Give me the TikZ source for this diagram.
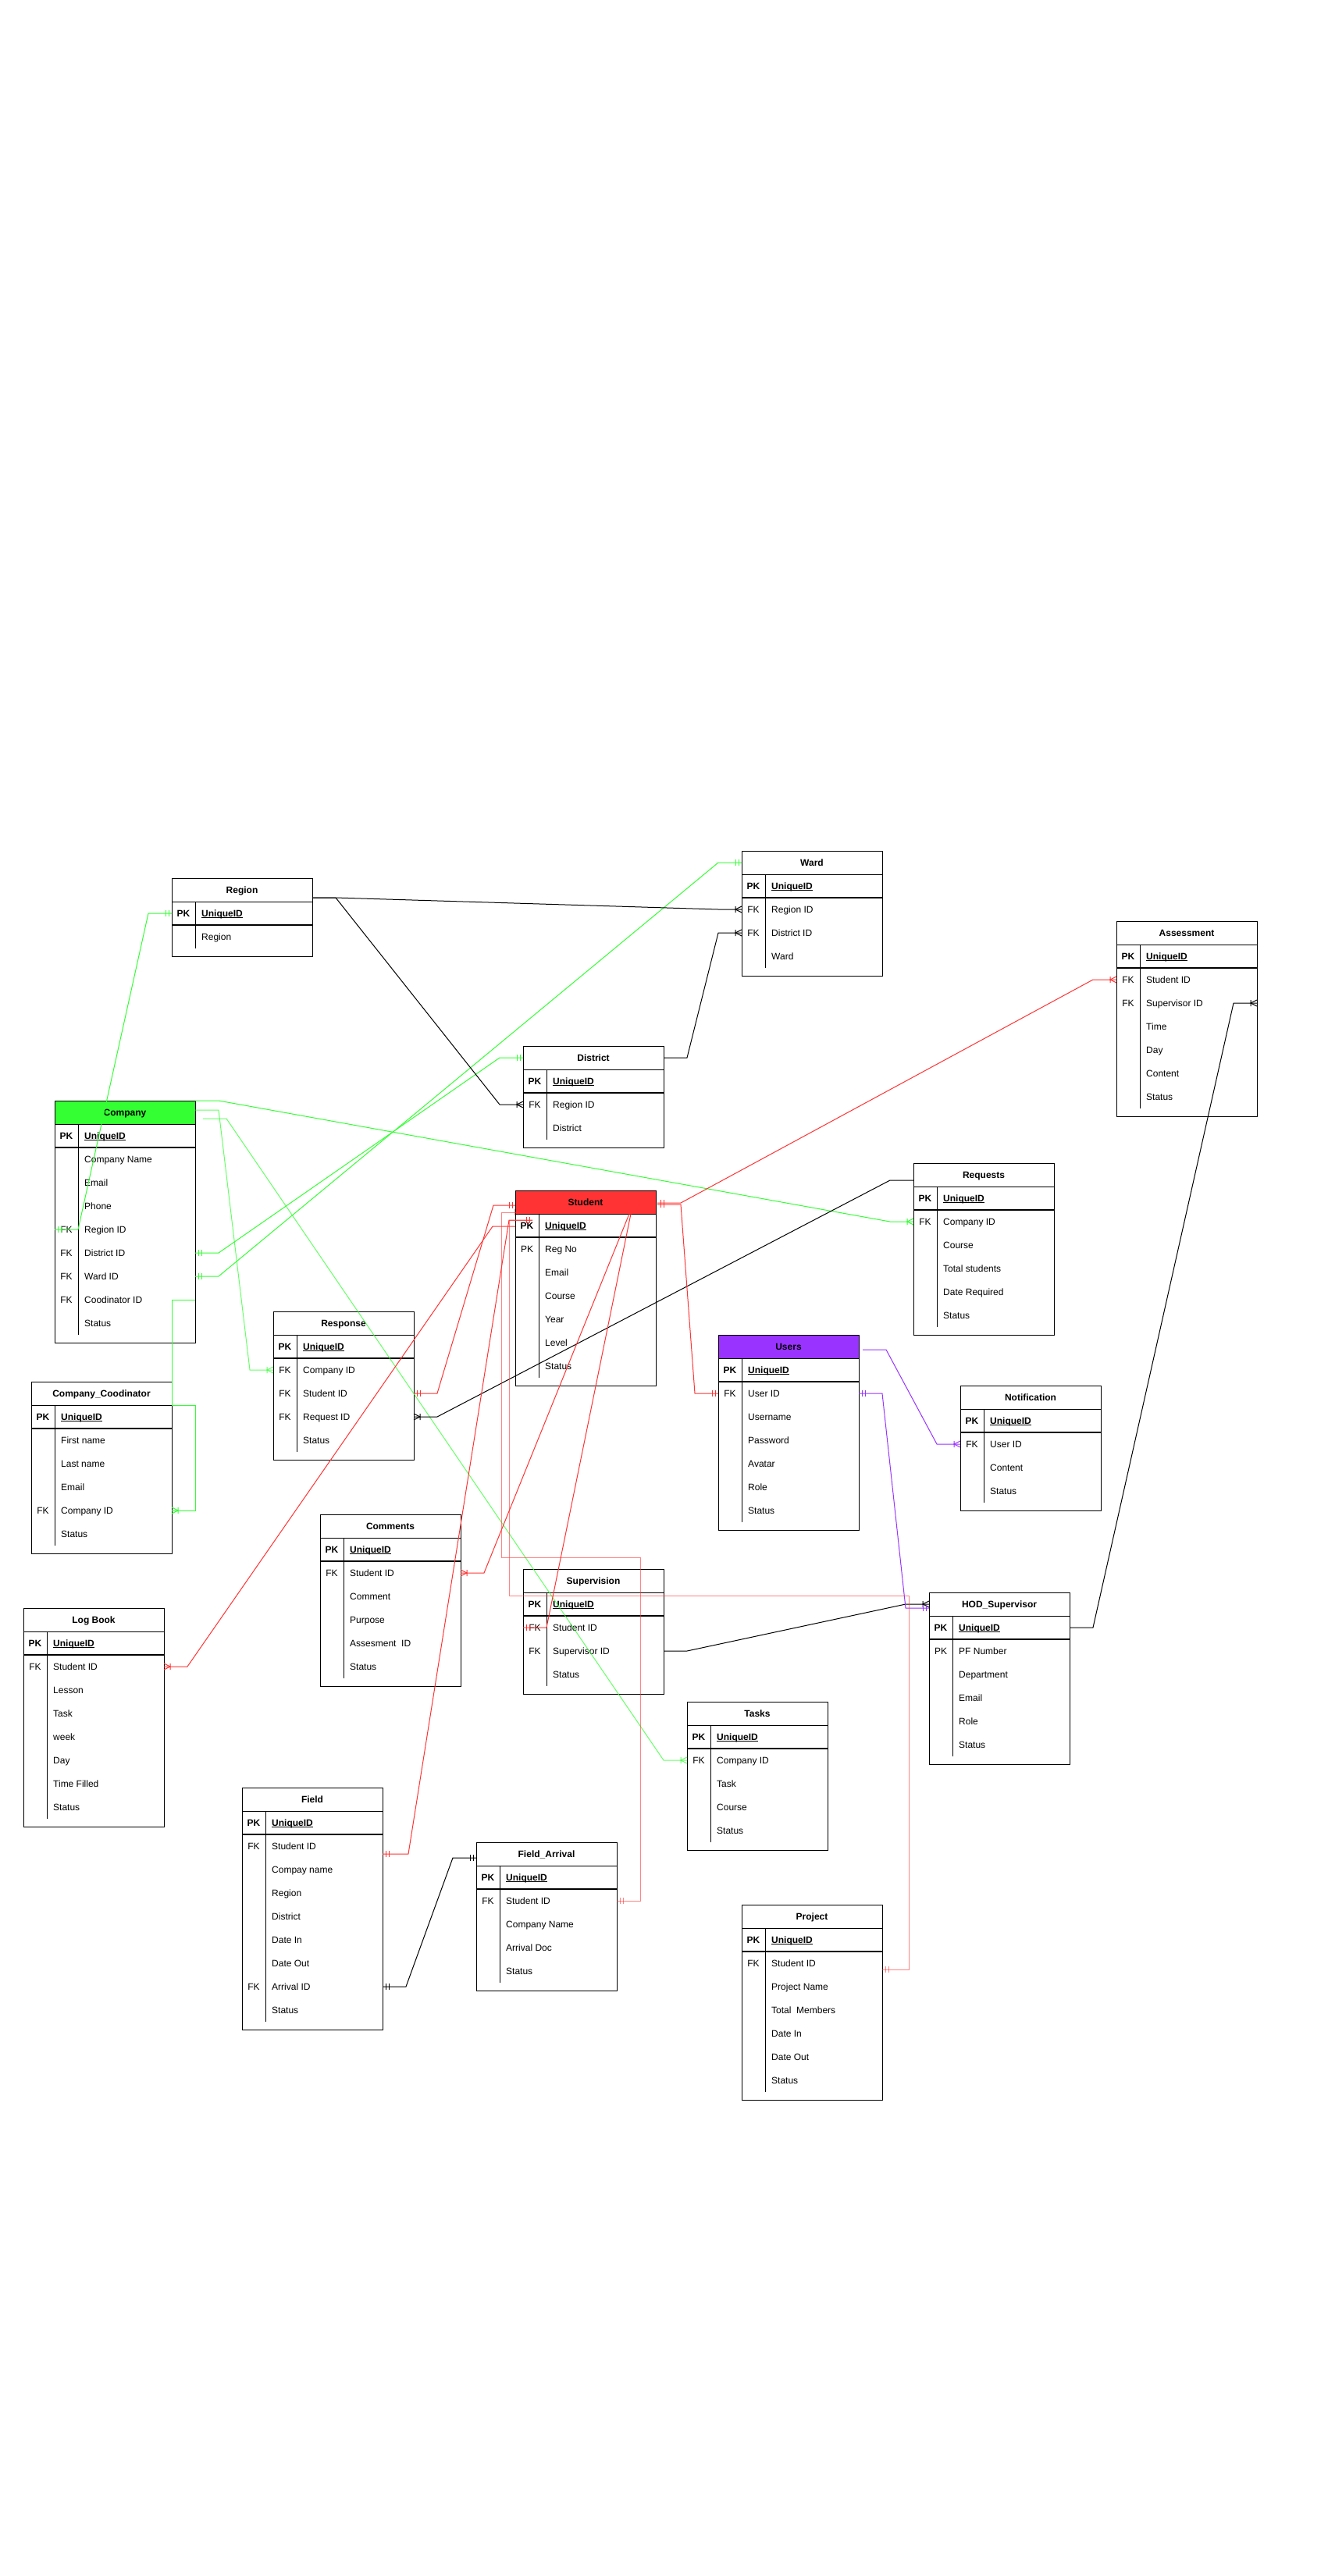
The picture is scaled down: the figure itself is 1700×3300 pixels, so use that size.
\documentclass[tikz,border=0pt]{standalone}
\usepackage{fontspec}
\setmainfont{Liberation Sans}
\usetikzlibrary{calc,arrows.meta}

\definecolor{cgreen}{HTML}{33FF33}
\definecolor{cred}{HTML}{FF3333}
\definecolor{cpurple}{HTML}{9933FF}

% Crow's foot ends: the line runs to the tip, the marks sit on it.
% "mandatory one": two bars across the line
\pgfdeclarearrow{
  name = ERone,
  setup code = {
    \pgfarrowssettipend{0pt}
    \pgfarrowssetlineend{0pt}
    \pgfarrowssetbackend{-8pt}
    \pgfarrowsupperhullpoint{0pt}{4pt}
    \pgfarrowsupperhullpoint{-8pt}{4pt}
  },
  drawing code = {
    \pgfpathmoveto{\pgfqpoint{-4pt}{4pt}}
    \pgfpathlineto{\pgfqpoint{-4pt}{-4pt}}
    \pgfpathmoveto{\pgfqpoint{-8pt}{4pt}}
    \pgfpathlineto{\pgfqpoint{-8pt}{-4pt}}
    \pgfusepathqstroke
  }
}
% "one to many": crow's foot plus one bar
\pgfdeclarearrow{
  name = ERmany,
  setup code = {
    \pgfarrowssettipend{0pt}
    \pgfarrowssetlineend{0pt}
    \pgfarrowssetbackend{-8pt}
    \pgfarrowsupperhullpoint{0pt}{4pt}
    \pgfarrowsupperhullpoint{-8pt}{4pt}
  },
  drawing code = {
    \pgfpathmoveto{\pgfqpoint{0pt}{4pt}}
    \pgfpathlineto{\pgfqpoint{-8pt}{0pt}}
    \pgfpathlineto{\pgfqpoint{0pt}{-4pt}}
    \pgfpathmoveto{\pgfqpoint{-8pt}{4pt}}
    \pgfpathlineto{\pgfqpoint{-8pt}{-4pt}}
    \pgfusepathqstroke
  }
}

\tikzset{
  tframe/.style={draw=black, line width=1pt, minimum width=180pt, inner sep=0pt, outer sep=0pt, anchor=north west},
  tline/.style={draw=black, line width=1pt},
  tpkline/.style={draw=black, line width=1.3pt},
  ttitle/.style={font=\fontsize{12pt}{14.4pt}\selectfont\bfseries, anchor=base, inner sep=0pt},
  tkey/.style={font=\fontsize{12pt}{14.4pt}\selectfont, anchor=base, inner sep=0pt},
  tname/.style={font=\fontsize{12pt}{14.4pt}\selectfont, anchor=base west, inner sep=0pt},
  rel/.style={line width=1pt, line join=miter},
  grel/.style={rel, draw=cgreen},
  krel/.style={rel, draw=black},
  prel/.style={rel, draw=cpurple},
  rrel/.style={rel, draw=cred},
}

% bold, underlined primary key name
\newcommand\pkname[1]{\setbox0\hbox{\bfseries #1}\rlap{\rule[-2pt]{\wd0}{1pt}}\box0}

% entity table: name, left, top, rows below the header, title, header fill
\newcommand\ertable[6]{%
  \fill[#6] (#2,#3) rectangle ++(180,30);
  \node[tframe, minimum height={30*(#4+1)+10}] (#1) at (#2,#3) {};
  \node[ttitle] (#1-title) at ($(#1.north)+(0,19.3)$) {#5};
  \draw[tline] ($(#1.north west)+(0,30)$) -- ($(#1.north east)+(0,30)$);
  \draw[tpkline] ($(#1.north west)+(0,60)$) -- ($(#1.north east)+(0,60)$);
  \draw[tline] ($(#1.north west)+(30,30)$) -- ($(#1.north west)+(30,{30*(#4+1)})$);
  \foreach \i in {0,...,#4} {
    \coordinate (#1-\i-w) at ($(#1.north west)+(0,{30*\i+15})$);
    \coordinate (#1-\i-e) at ($(#1.north east)+(0,{30*\i+15})$);
  }
}
% one row: table, row number, key, field name
\newcommand\errow[4]{%
  \node[tkey] (#1-k#2) at ($(#1.north west)+(15,{30*#2+19.3})$) {#3};
  \node[tname] (#1-n#2) at ($(#1.north west)+(38,{30*#2+19.3})$) {#4};
}
\newcommand\pkrow[1]{\errow{#1}{1}{\textbf{PK}}{\pkname{UniqueID}}}

\begin{document}
\begin{tikzpicture}[x=1pt, y=-1pt]
\fill[white] (0,0) rectangle (1700,3300);
\useasboundingbox (0,0) rectangle (1700,3300);

% ---------- tables ----------
\ertable{region}{220}{1125}{2}{Region}{white}
\pkrow{region}
\errow{region}{2}{}{Region}

\ertable{ward}{950}{1090}{4}{Ward}{white}
\pkrow{ward}
\errow{ward}{2}{FK}{Region ID}
\errow{ward}{3}{FK}{District ID}
\errow{ward}{4}{}{Ward}

\ertable{district}{670}{1340}{3}{District}{white}
\pkrow{district}
\errow{district}{2}{FK}{Region ID}
\errow{district}{3}{}{District}

\ertable{assessment}{1430}{1180}{7}{Assessment}{white}
\pkrow{assessment}
\errow{assessment}{2}{FK}{Student ID}
\errow{assessment}{3}{FK}{Supervisor ID}
\errow{assessment}{4}{}{Time}
\errow{assessment}{5}{}{Day}
\errow{assessment}{6}{}{Content}
\errow{assessment}{7}{}{Status}

\ertable{company}{70}{1410}{9}{Company}{cgreen}
\pkrow{company}
\errow{company}{2}{}{Company Name}
\errow{company}{3}{}{Email}
\errow{company}{4}{}{Phone}
\errow{company}{5}{FK}{Region ID}
\errow{company}{6}{FK}{District ID}
\errow{company}{7}{FK}{Ward ID}
\errow{company}{8}{FK}{Coodinator ID}
\errow{company}{9}{}{Status}

\ertable{requests}{1170}{1490}{6}{Requests}{white}
\pkrow{requests}
\errow{requests}{2}{FK}{Company ID}
\errow{requests}{3}{}{Course}
\errow{requests}{4}{}{Total students}
\errow{requests}{5}{}{Date Required}
\errow{requests}{6}{}{Status}

\ertable{student}{660}{1525}{7}{Student}{cred}
\pkrow{student}
\errow{student}{2}{PK}{Reg No}
\errow{student}{3}{}{Email}
\errow{student}{4}{}{Course}
\errow{student}{5}{}{Year}
\errow{student}{6}{}{Level}
\errow{student}{7}{}{Status}

\ertable{response}{350}{1680}{5}{Response}{white}
\pkrow{response}
\errow{response}{2}{FK}{Company ID}
\errow{response}{3}{FK}{Student ID}
\errow{response}{4}{FK}{Request ID}
\errow{response}{5}{}{Status}

\ertable{users}{920}{1710}{7}{Users}{cpurple}
\pkrow{users}
\errow{users}{2}{FK}{User ID}
\errow{users}{3}{}{Username}
\errow{users}{4}{}{Password}
\errow{users}{5}{}{Avatar}
\errow{users}{6}{}{Role}
\errow{users}{7}{}{Status}

\ertable{notification}{1230}{1775}{4}{Notification}{white}
\pkrow{notification}
\errow{notification}{2}{FK}{User ID}
\errow{notification}{3}{}{Content}
\errow{notification}{4}{}{Status}

\ertable{coordinator}{40}{1770}{6}{Company\_Coodinator}{white}
\pkrow{coordinator}
\errow{coordinator}{2}{}{First name}
\errow{coordinator}{3}{}{Last name}
\errow{coordinator}{4}{}{Email}
\errow{coordinator}{5}{FK}{Company ID}
\errow{coordinator}{6}{}{Status}

\ertable{comments}{410}{1940}{6}{Comments}{white}
\pkrow{comments}
\errow{comments}{2}{FK}{Student ID}
\errow{comments}{3}{}{Comment}
\errow{comments}{4}{}{Purpose}
\errow{comments}{5}{}{Assesment\ \ ID}
\errow{comments}{6}{}{Status}

\ertable{supervision}{670}{2010}{4}{Supervision}{white}
\pkrow{supervision}
\errow{supervision}{2}{FK}{Student ID}
\errow{supervision}{3}{FK}{Supervisor ID}
\errow{supervision}{4}{}{Status}

\ertable{hod}{1190}{2040}{6}{HOD\_Supervisor}{white}
\pkrow{hod}
\errow{hod}{2}{PK}{PF Number}
\errow{hod}{3}{}{Department}
\errow{hod}{4}{}{Email}
\errow{hod}{5}{}{Role}
\errow{hod}{6}{}{Status}

\ertable{logbook}{30}{2060}{8}{Log Book}{white}
\pkrow{logbook}
\errow{logbook}{2}{FK}{Student ID}
\errow{logbook}{3}{}{Lesson}
\errow{logbook}{4}{}{Task}
\errow{logbook}{5}{}{week}
\errow{logbook}{6}{}{Day}
\errow{logbook}{7}{}{Time Filled}
\errow{logbook}{8}{}{Status}

\ertable{tasks}{880}{2180}{5}{Tasks}{white}
\pkrow{tasks}
\errow{tasks}{2}{FK}{Company ID}
\errow{tasks}{3}{}{Task}
\errow{tasks}{4}{}{Course}
\errow{tasks}{5}{}{Status}

\ertable{field}{310}{2290}{9}{Field}{white}
\pkrow{field}
\errow{field}{2}{FK}{Student ID}
\errow{field}{3}{}{Compay name}
\errow{field}{4}{}{Region}
\errow{field}{5}{}{District}
\errow{field}{6}{}{Date In}
\errow{field}{7}{}{Date Out}
\errow{field}{8}{FK}{Arrival ID}
\errow{field}{9}{}{Status}

\ertable{arrival}{610}{2360}{5}{Field\_Arrival}{white}
\pkrow{arrival}
\errow{arrival}{2}{FK}{Student ID}
\errow{arrival}{3}{}{Company Name}
\errow{arrival}{4}{}{Arrival Doc}
\errow{arrival}{5}{}{Status}

\ertable{project}{950}{2440}{7}{Project}{white}
\pkrow{project}
\errow{project}{2}{FK}{Student ID}
\errow{project}{3}{}{Project Name}
\errow{project}{4}{}{Total\ \ Members}
\errow{project}{5}{}{Date In}
\errow{project}{6}{}{Date Out}
\errow{project}{7}{}{Status}

% ---------- attachment points off the row centres ----------
\coordinate (company-out1) at ($(company.north east)+(0,12)$);
\coordinate (company-out2) at ($(company.north east)+(10,23)$);
\coordinate (region-out) at ($(region.north east)+(0,25)$);
\coordinate (requests-out) at ($(requests.north west)+(0,22)$);
\coordinate (arrival-in) at ($(arrival.north west)+(0,20)$);
\coordinate (users-out) at ($(users.north east)+(5,19)$);
\coordinate (hod-in) at ($(hod.north west)+(0,20)$);
\coordinate (student-ea) at ($(student.north east)+(2,16)$);
\coordinate (student-eb) at ($(student.north east)+(2,18)$);
\coordinate (student-wa) at ($(student.north west)+(0,19)$);
\coordinate (student-wb) at ($(student.north west)+(7,28)$);
\coordinate (student-wc) at ($(student.north west)+(22,38)$);
\coordinate (student-wd) at ($(student.north west)+(0,46)$);
\coordinate (student-sa) at ($(student.north west)+(146,30)$);
\coordinate (student-sb) at ($(student.north west)+(148,30)$);
\coordinate (field-in) at ($(field-2-e)+(0,10)$);
\coordinate (project-in) at ($(project-2-e)+(0,8)$);

% ---------- company relations ----------
\draw[grel, arrows={ERone-ERone}] (company-5-w) -- ++(30,0) -- ($(region-1-w)+(-30,0)$) -- (region-1-w);
\draw[grel, arrows={ERone-ERone}] (company-6-e) -- ++(30,0) -- ($(district-0-w)+(-30,0)$) -- (district-0-w);
\draw[grel, arrows={ERone-ERone}] (company-7-e) -- ++(30,0) -- ($(ward-0-w)+(-30,0)$) -- (ward-0-w);
\draw[grel, arrows={-ERmany}] (company-8-e) -- ++(-30,0) |- ($(coordinator.north east)+(30,30)$) |- (coordinator-5-e);
\draw[grel, arrows={-ERmany}] (company.north east) -- ++(30,0) -- ($(requests-2-w)+(-30,0)$) -- (requests-2-w);
\draw[grel, opacity=.75, arrows={-ERmany}] (company-out1) -- ++(30,0) -- ($(response-2-w)+(-30,0)$) -- (response-2-w);
\draw[grel, opacity=.75, arrows={-ERmany}] (company-out2) -- ++(30,0) -- ($(tasks-2-w)+(-30,0)$) -- (tasks-2-w);

% ---------- location, request, supervisor relations ----------
\draw[krel, arrows={-ERmany}] (region-out) -- ++(30,0) -- ($(ward-2-w)+(-30,0)$) -- (ward-2-w);
\draw[krel, arrows={-ERmany}] (region-out) -- ++(30,0) -- ($(district-2-w)+(-30,0)$) -- (district-2-w);
\draw[krel, arrows={-ERmany}] (district-0-e) -- ++(30,0) -- ($(ward-3-w)+(-30,0)$) -- (ward-3-w);
\draw[krel, arrows={-ERmany}] (requests-out) -- ++(-30,0) -- ($(response-4-e)+(30,0)$) -- (response-4-e);
\draw[krel, arrows={-ERmany}] (supervision-3-e) -- ++(30,0) -- ($(hod-0-w)+(-30,0)$) -- (hod-0-w);
\draw[krel, arrows={-ERmany}] (hod-1-e) -- ++(30,0) -- ($(assessment-3-e)+(-30,0)$) -- (assessment-3-e);
\draw[krel, arrows={ERone-ERone}] (field-8-e) -- ++(30,0) -- ($(arrival-in)+(-30,0)$) -- (arrival-in);

% ---------- user relations ----------
\draw[prel, arrows={-ERmany}] (users-out) -- ++(30,0) -- ($(notification-2-w)+(-30,0)$) -- (notification-2-w);
\draw[prel, arrows={ERone-ERone}] (users-2-e) -- ++(30,0) -- ($(hod-in)+(-30,0)$) -- (hod-in);

% ---------- student relations ----------
\draw[rrel, arrows={ERone-ERmany}] (student-ea) -- ++(30,0) -- ($(assessment-2-w)+(-30,0)$) -- (assessment-2-w);
\draw[rrel, arrows={ERone-ERone}] (student-eb) -- ++(30,0) -- ($(users-2-w)+(-30,0)$) -- (users-2-w);
\draw[rrel, arrows={ERone-ERone}] (student-wa) -- ++(-28,0) -- ($(response-3-e)+(30,0)$) -- (response-3-e);
\draw[rrel, opacity=.6, arrows={ERone-ERone}] (student-wb) -- ++(-25,0) -- ++(0,442) -| ($(arrival-2-e)+(30,0)$) -- (arrival-2-e);
\draw[rrel, opacity=.6, arrows={ERone-ERone}] (student-wc) -- ++(-30,0) -- ++(0,481) -| ($(project-in)+(34,0)$) -- (project-in);
\draw[rrel, arrows={ERone-ERone}] (student-wc) -- ++(-30,0) -- ($(field-in)+(33,0)$) -- (field-in);
\draw[rrel, arrows={-ERmany}] (student-wd) -- ++(-29,0) -- ($(logbook-2-e)+(30,0)$) -- (logbook-2-e);
\draw[rrel, arrows={-ERmany}] (student-sa) -- ($(comments-2-e)+(30,0)$) -- (comments-2-e);
\draw[rrel, arrows={-ERone}] (student-sb) -- ($(supervision-2-w)+(30,0)$) -- (supervision-2-w);
\end{tikzpicture}
\end{document}
